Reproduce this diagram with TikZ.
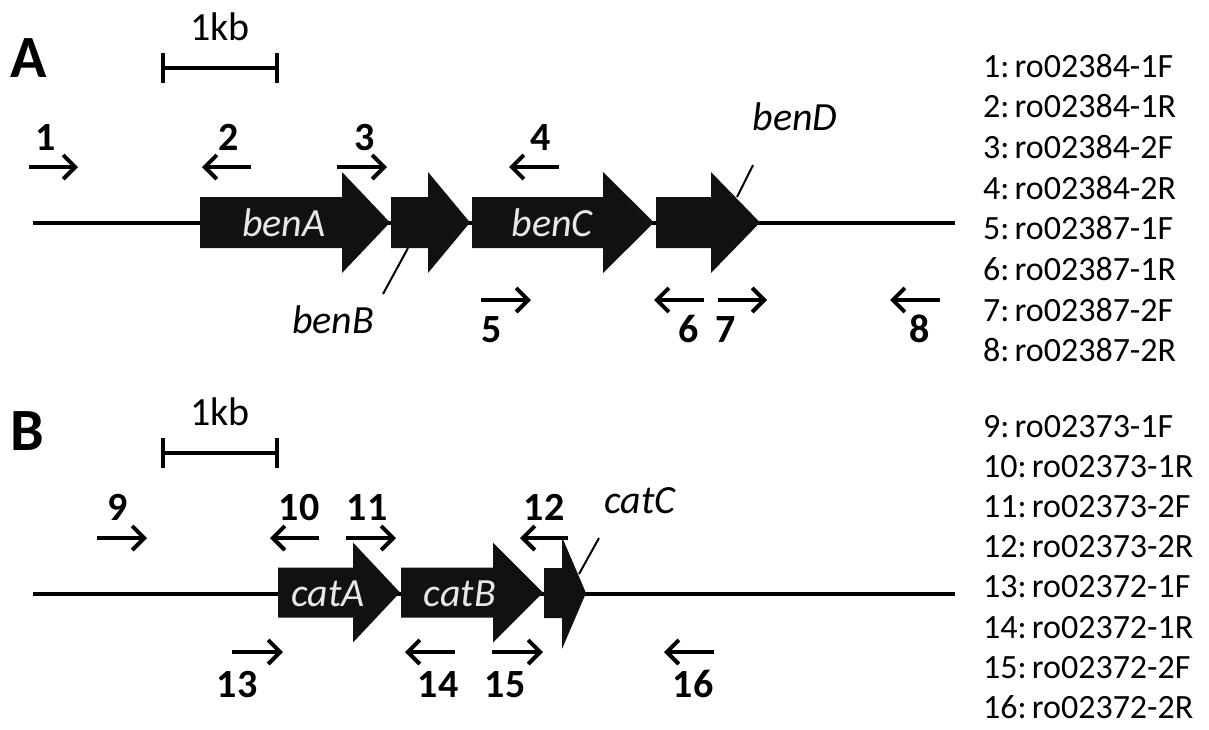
\documentclass[tikz,border=0pt]{standalone}
\usepackage{fontspec}
\setmainfont{Carlito}
\usetikzlibrary{arrows.meta}
\definecolor{genecol}{RGB}{17,17,17}
\definecolor{genetext}{RGB}{232,232,232}
\newcommand{\genearrow}[6]{% x0, x1, x2, yc, body half-height, head half-height
  \fill[genecol] (#1,#4-#5) -- (#2,#4-#5) -- (#2,#4-#6) -- (#3,#4) -- (#2,#4+#6) -- (#2,#4+#5) -- (#1,#4+#5) -- cycle;}
\newcommand{\legitem}[2]{#1:\hspace{5pt}#2}
\begin{document}
\begin{tikzpicture}[x=1pt,y=-1pt,
  num/.style={font=\fontsize{40}{48}\selectfont\bfseries, anchor=base, inner sep=0pt},
  leg/.style={font=\fontsize{34}{40}\selectfont, anchor=base west, inner sep=0pt},
  genelbl/.style={font=\fontsize{40}{48}\selectfont\itshape, text=genetext, anchor=base, inner sep=0pt},
  outlbl/.style={font=\fontsize{40}{48}\selectfont\itshape, anchor=base, inner sep=0pt},
  panel/.style={font=\fontsize{60}{72}\selectfont\bfseries, anchor=base west, inner sep=0pt},
  kb/.style={font=\fontsize{40}{48}\selectfont, anchor=base, inner sep=0pt},
  dna/.style={line width=4pt},
  bar/.style={line width=4pt},
  primer/.style={line width=4pt, -{Straight Barb[length=12pt,width=24pt,line width=4pt]}},
  ptr/.style={line width=2pt}
]
\useasboundingbox (0,0) rectangle (1209,729);

% ---------------- Panel A ----------------
\node[panel] (labA) at (10,77) {A};
\coordinate (sbA1) at (163,68); \coordinate (sbA2) at (277,68);
\draw[bar] (sbA1) -- (sbA2);
\draw[bar] (163,53) -- (163,83);
\draw[bar] (277,53) -- (277,83);
\node[kb] (kbA) at (220,40) {1kb};

\coordinate (dnaA1) at (33,223); \coordinate (dnaA2) at (955,223);
\draw[dna] (dnaA1) -- (dnaA2);
\genearrow{200}{342}{390}{222.5}{25.5}{50.5}
\genearrow{391}{428}{470}{222.5}{25.5}{50.5}
\genearrow{472}{603}{654}{222.5}{25.5}{50.5}
\genearrow{656}{711}{760}{222.5}{25.5}{50.5}
\node[genelbl] (benA) at (284,236) {benA};
\node[genelbl] (benC) at (552,236) {benC};
\node[outlbl] (benB) at (333,333) {benB};
\node[outlbl] (benD) at (795,130) {benD};
\coordinate (pBa) at (408,248); \coordinate (pBb) at (383,294);
\draw[ptr] (pBa) -- (pBb);
\coordinate (pDa) at (737,197); \coordinate (pDb) at (753,165);
\draw[ptr] (pDa) -- (pDb);

% primers A
\draw[primer] (29,167) -- (78,167);
\draw[primer] (251,167) -- (202,167);
\draw[primer] (337,167) -- (387,167);
\draw[primer] (559,167) -- (509,167);
\draw[primer] (481,300) -- (531,300);
\draw[primer] (704,300) -- (654,300);
\draw[primer] (718,300) -- (767,300);
\draw[primer] (940,300) -- (890,300);
\node[num] (n1) at (46,150) {1};
\node[num] (n2) at (229,150) {2};
\node[num] (n3) at (365,150) {3};
\node[num] (n4) at (541,150) {4};
\node[num] (n5) at (492,342) {5};
\node[num] (n6) at (689,342) {6};
\node[num] (n7) at (726,342) {7};
\node[num] (n8) at (920,342) {8};

% legend A
\foreach \a/\b [count=\i] in {1/ro02384-1F, 2/ro02384-1R, 3/ro02384-2F, 4/ro02384-2R,
                               5/ro02387-1F, 6/ro02387-1R, 7/ro02387-2F, 8/ro02387-2R}
  \node[leg] (legA\i) at (983,{77+40.7*(\i-1)}) {\legitem{\a}{\b}};

% ---------------- Panel B ----------------
\node[panel] (labB) at (10,450) {B};
\coordinate (sbB1) at (163,453); \coordinate (sbB2) at (277,453);
\draw[bar] (sbB1) -- (sbB2);
\draw[bar] (163,438) -- (163,468);
\draw[bar] (277,438) -- (277,468);
\node[kb] (kbB) at (220,425) {1kb};

\coordinate (dnaB1) at (33,594); \coordinate (dnaB2) at (955,594);
\draw[dna] (dnaB1) -- (dnaB2);
\genearrow{278}{353}{400}{592.5}{25}{50}
\genearrow{401}{493}{543}{592.5}{25}{50}
\genearrow{544}{562}{586}{593}{25}{56}
\node[genelbl] (catA) at (328,606) {catA};
\node[genelbl] (catB) at (460,606) {catB};
\node[outlbl] (catC) at (640,513) {catC};
\coordinate (pCa) at (579,574); \coordinate (pCb) at (599,538);
\draw[ptr] (pCa) -- (pCb);

% primers B
\draw[primer] (97,538) -- (147,538);
\draw[primer] (319,538) -- (270,538);
\draw[primer] (346,538) -- (396,538);
\draw[primer] (568,538) -- (520,538);
\draw[primer] (232,652) -- (283,652);
\draw[primer] (455,652) -- (405,652);
\draw[primer] (492,652) -- (543,652);
\draw[primer] (714,652) -- (664,652);
\node[num] (n9) at (118,520) {9};
\node[num] (n10) at (299,520) {10};
\node[num] (n11) at (367,520) {11};
\node[num] (n12) at (544,520) {12};
\node[num] (n13) at (237,697) {13};
\node[num] (n14) at (438,697) {14};
\node[num] (n15) at (505,697) {15};
\node[num] (n16) at (693,697) {16};

% legend B
\foreach \a/\b [count=\i] in {9/ro02373-1F, 10/ro02373-1R, 11/ro02373-2F, 12/ro02373-2R,
                               13/ro02372-1F, 14/ro02372-1R, 15/ro02372-2F, 16/ro02372-2R}
  \node[leg] (legB\i) at (983,{437+40.2*(\i-1)}) {\legitem{\a}{\b}};
\end{tikzpicture}
\end{document}
